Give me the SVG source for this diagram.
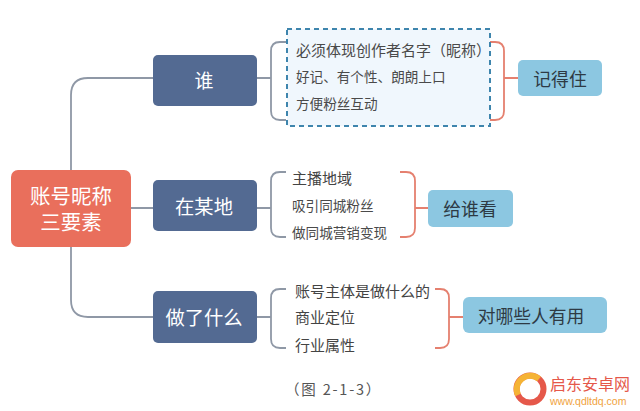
<svg xmlns="http://www.w3.org/2000/svg" width="640" height="411" viewBox="0 0 640 411">
<style>
text{font-family:"Noto Sans CJK SC","Liberation Sans",sans-serif;dominant-baseline:central}
.root{fill:#E96F5C}.cat{fill:#536A92}.res{fill:#8CC7E1}
.w{fill:#fff;text-anchor:middle}
.r{fill:#2E3A44;font-size:17.8px;text-anchor:middle}
.t{fill:#4a4a4a;font-size:13.6px}
.t2{fill:#444;font-size:15px}
.g{fill:none;stroke:#8F98A6;stroke-width:1.8}
.o{fill:none;stroke:#E5806F;stroke-width:1.8}
</style>
<rect width="640" height="411" fill="#fff"/>
<g id="connectors">
<path class="g" d="M71 170V95Q71 78 88 78H153M131 208H153M71 247V300Q71 317 88 317H153"/>
<path class="g" d="M257 78H271M286 42H280Q271 42 271 51V111Q271 120 280 120H286"/>
<path class="g" d="M257 208H271M286 172H280Q271 172 271 181V228Q271 237 280 237H286"/>
<path class="g" d="M257 317H271M286 289H280Q271 289 271 298V339Q271 348 280 348H286"/>
<path class="o" d="M490 42H495Q504 42 504 51V111Q504 120 495 120H490M504 78H518"/>
<path class="o" d="M400 172H406Q415 172 415 181V228Q415 237 406 237H400M415 208H428"/>
<path class="o" d="M435 289H440Q449 289 449 298V339Q449 348 440 348H435M449 317H463"/>
</g>
<g id="root"><rect class="root" x="11" y="170" width="120" height="77" rx="7"/><text class="w" x="71" y="194.500" font-size="20.5">账号昵称</text><text class="w" x="71" y="221" font-size="20.5">三要素</text></g>
<g id="who"><rect class="cat" x="153" y="55" width="104" height="51" rx="5"/><text class="w" x="204" y="79" font-size="19">谁</text></g>
<g id="where"><rect class="cat" x="153" y="180" width="104" height="51" rx="5"/><text class="w" x="204" y="206" font-size="19.3">在某地</text></g>
<g id="what"><rect class="cat" x="153" y="291" width="104" height="52" rx="5"/><text class="w" x="204" y="317" font-size="19.3">做了什么</text></g>
<g id="who-detail"><rect x="287" y="29" width="203" height="97" fill="#F0F7FD" stroke="#3E85AD" stroke-width="2" stroke-dasharray="5 4"/>
<text class="t" x="296" y="49" style="font-size:15px">必须体现创作者名字（昵称）</text><text class="t" x="296" y="76">好记、有个性、朗朗上口</text><text class="t" x="296" y="103">方便粉丝互动</text></g>
<g id="where-detail"><text class="t2" x="292" y="177">主播地域</text><text class="t" x="292" y="205">吸引同城粉丝</text><text class="t" x="292" y="232">做同城营销变现</text></g>
<g id="what-detail"><text class="t2" x="295" y="290">账号主体是做什么的</text><text class="t2" x="295" y="316">商业定位</text><text class="t2" x="295" y="344">行业属性</text></g>
<g id="remember"><rect class="res" x="518" y="60" width="84" height="36" rx="5"/><text class="r" x="560" y="78">记得住</text></g>
<g id="show"><rect class="res" x="428" y="190" width="85" height="37" rx="5"/><text class="r" x="470" y="208">给谁看</text></g>
<g id="useful"><rect class="res" x="463" y="297" width="144" height="36" rx="6"/><text class="r" x="531" y="315">对哪些人有用</text></g>
<g id="caption"><text x="285" y="388" font-size="14.5" fill="#555" letter-spacing="1.8">（图 2-1-3）</text></g>
<g id="watermark">
<circle cx="530" cy="389" r="13.5" fill="none" stroke="#E5584A" stroke-width="6"/>
<path d="M518 395A13.5 13.5 0 0 1 539 379" fill="none" stroke="#F5B335" stroke-width="6"/>
<text x="550" y="383" font-size="16" fill="#E5584A">启东安卓网</text>
<text x="550" y="400.500" font-size="10.5" fill="#F0A23C" style="font-family:'Liberation Sans',sans-serif">www.qdltdq.com</text>
</g>
</svg>
